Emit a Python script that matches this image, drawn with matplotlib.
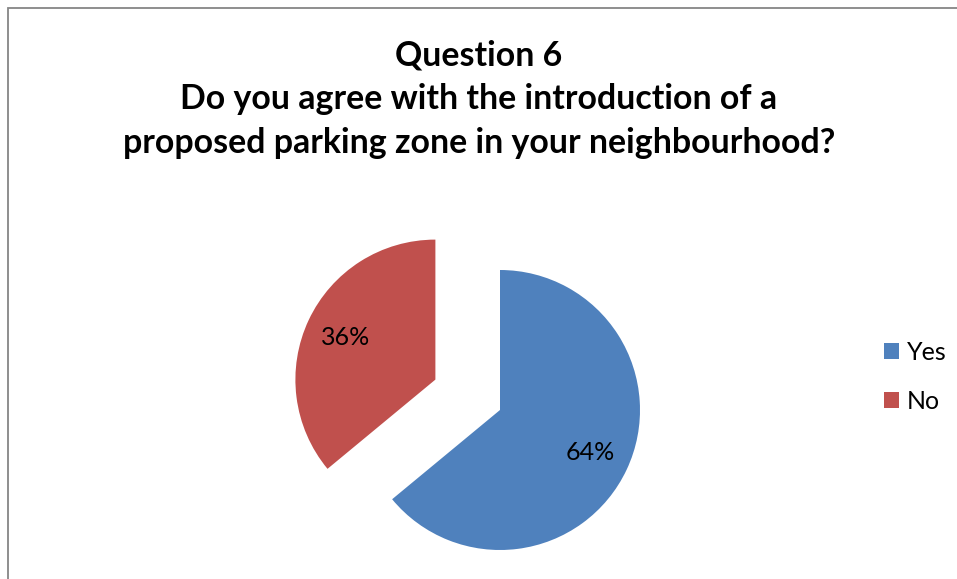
import matplotlib.pyplot as plt
from matplotlib.patches import Rectangle

# data
labels = ["Yes", "No"]
values = [64, 36]
colors = ["#4F81BD", "#C0504D"]
explode = [0, 0.51]

W, H = 957, 579
fig = plt.figure(figsize=(W / 100, H / 100), dpi=100)
plt.rcParams["font.family"] = ["Lato", "DejaVu Sans"]

# chart border (runs off the right and bottom edges)
fig.patches.append(Rectangle((8 / W, -0.1), 1.2, (H - 8) / H + 0.1,
                             transform=fig.transFigure, fill=False,
                             edgecolor="#868686", lw=1.3))

fig.text(0.5 * (123 + 835) / W, 1 - 99 / H,
         "Question 6\nDo you agree with the introduction of a\n"
         "proposed parking zone in your neighbourhood?",
         ha="center", va="center", fontsize=24.4, fontweight="bold",
         linespacing=1.46, transform=fig.transFigure)

# pie axes: 1 data unit = 140 px, centre of the pie at (500, 410) px
ax = fig.add_axes([280 / W, (H - 570) / H, 380 / W, 350 / H])
wedges, texts, autotexts = ax.pie(values, colors=colors, explode=explode,
                                  startangle=90, counterclock=False,
                                  autopct="%1.0f%%", pctdistance=0.71,
                                  textprops={"fontsize": 18})
ax.set_xlim(-220 / 140, 160 / 140)
ax.set_ylim(-160 / 140, 190 / 140)
ax.set_aspect("equal", adjustable="datalim")
ax.axis("off")

fig.legend(wedges, labels, loc="center left",
           bbox_to_anchor=(884 / W, 1 - 377 / H), frameon=False,
           borderpad=0, borderaxespad=0,
           fontsize=18, handlelength=0.6, handleheight=0.6,
           handletextpad=0.3, labelspacing=1.05)

fig.savefig("out.png", dpi=100)
